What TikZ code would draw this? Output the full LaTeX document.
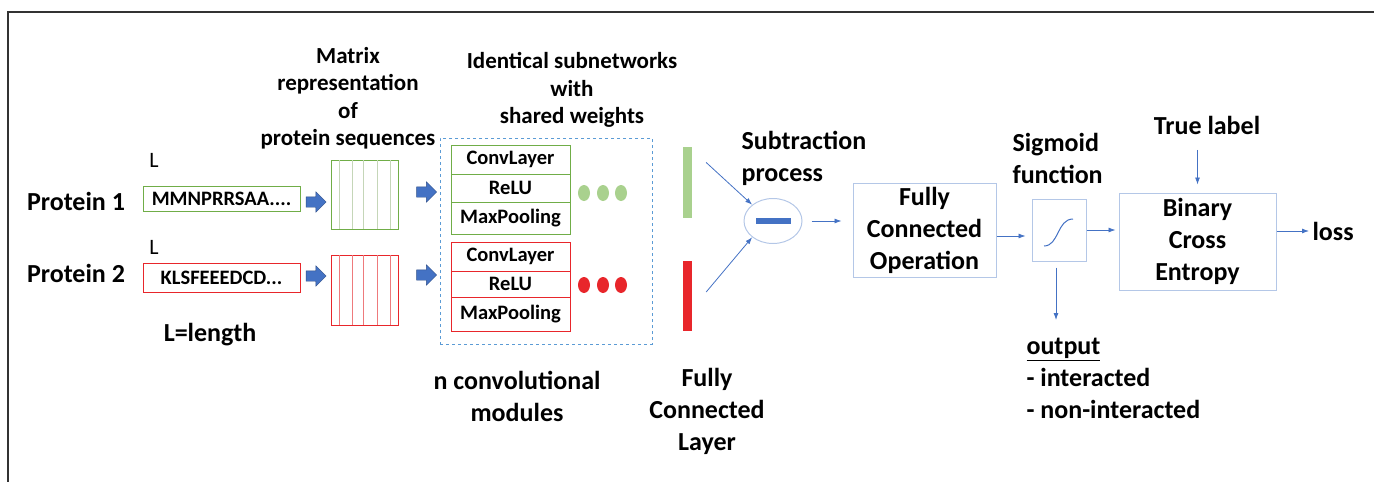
\documentclass[tikz,border=0pt]{standalone}
\usepackage{fontspec}
\setmainfont{Carlito}
\usetikzlibrary{positioning,shapes.geometric,shapes.arrows,arrows.meta}
\definecolor{lineblue}{HTML}{4472C4}
\definecolor{boxblue}{HTML}{B4C7E7}
\definecolor{dashblue}{HTML}{5B9BD5}
\definecolor{pgreen}{HTML}{70AD47}
\definecolor{lgreen}{HTML}{A9D18E}
\definecolor{mgreen}{HTML}{C5D6B8}
\definecolor{pred}{HTML}{E8262B}
\definecolor{lred}{HTML}{EE7A7C}

\tikzset{
  smalllbl/.style={font=\fontsize{23}{27.5}\selectfont\bfseries, align=center},
  biglbl/.style={font=\fontsize{26}{32}\selectfont\bfseries, align=center},
  boxtxt/.style={font=\fontsize{20.5}{23}\selectfont\bfseries, inner sep=0pt},
  seqbox/.style={boxtxt, draw, line width=1pt, minimum width=157pt},
  matbox/.style={draw, line width=1pt, minimum width=67pt, inner sep=0pt},
  layer/.style={boxtxt, draw, line width=1pt, minimum width=119pt},
  dot/.style={ellipse, inner sep=0pt, minimum width=12pt, minimum height=16pt},
  fcbar/.style={inner sep=0pt, minimum width=9pt},
  opbox/.style={biglbl, draw=boxblue, line width=1pt, inner sep=0pt},
  blockarrow/.style={single arrow, fill=lineblue, draw=lineblue!70!black, line width=0.4pt,
    inner sep=5pt, single arrow head extend=5pt, minimum height=20pt},
  flow/.style={draw=lineblue, line width=0.8pt, -{Latex[length=7pt,width=5pt]}}
}

\begin{document}
\begin{tikzpicture}[x=1pt,y=-1pt]
  \useasboundingbox (0,0) rectangle (1374,482);
  \draw[line width=1.2pt, black!80] (8,482) -- (8,12) -- (1374,12);

  % inputs
  \node[biglbl] (p1) at (76,201) {Protein 1};
  \node[biglbl] (p2) at (76,273) {Protein 2};
  \node[font=\fontsize{22}{26}\selectfont] (l1) at (154,160) {L};
  \node[font=\fontsize{22}{26}\selectfont] (l2) at (154,247) {L};
  \node[seqbox, draw=pgreen, minimum height=25pt] (seq1) at (221.5,198.5) {MMNPRRSAA....};
  \node[seqbox, draw=pred, minimum height=29pt] (seq2) at (221.5,277.5) {KLSFEEEDCD...};
  \node[biglbl] (len) at (210,335) {L=length};
  \node[blockarrow] (ba1) at (313.5,202) {};
  \node[blockarrow] (ba2) at (313.5,276) {};

  % matrices
  \node[smalllbl] (mattxt) at (348,98) {Matrix\\representation\\of\\protein sequences};
  \node[matbox, draw=pgreen, minimum height=69pt] (mat1) at (364.5,194.5) {};
  \node[matbox, draw=pred, minimum height=70pt] (mat2) at (364.5,290) {};
  \foreach \x in {339,352,363,377,390} {
    \draw[mgreen, line width=0.8pt] (\x,160) -- (\x,229);
    \draw[lred, line width=0.8pt] (\x,255) -- (\x,325);
  }
  \node[blockarrow] (ba3) at (424,192) {};
  \node[blockarrow] (ba4) at (424,275) {};

  % subnetworks
  \node[smalllbl] (idtxt) at (572,90) {Identical subnetworks\\with\\shared weights};
  \node[draw=dashblue, dashed, line width=0.8pt, minimum width=212pt, minimum height=206pt] (sub) at (546,241) {};
  \node[layer, draw=pgreen, minimum height=29pt] (conv1) at (510.5,159.5) {ConvLayer};
  \node[layer, draw=pgreen, minimum height=28pt] (relu1) at (510.5,188) {ReLU};
  \node[layer, draw=pgreen, minimum height=32pt] (pool1) at (510.5,218) {MaxPooling};
  \node[layer, draw=pred, minimum height=29pt] (conv2) at (510.5,256.5) {ConvLayer};
  \node[layer, draw=pred, minimum height=26pt] (relu2) at (510.5,284) {ReLU};
  \node[layer, draw=pred, minimum height=34pt] (pool2) at (510.5,314) {MaxPooling};
  \foreach \x in {584,603,621} {
    \node[dot, fill=lgreen] at (\x,193) {};
    \node[dot, fill=pred] at (\x,285) {};
  }
  \node[biglbl] (ntxt) at (517,396) {n convolutional\\modules};

  % fully connected layer and subtraction
  \node[fcbar, fill=lgreen, minimum height=71pt] (bar1) at (687.5,182.5) {};
  \node[fcbar, fill=pred, minimum height=70pt] (bar2) at (687.5,296) {};
  \node[biglbl] (fctxt) at (707,411) {Fully\\Connected\\Layer};
  \node[biglbl, align=left, anchor=west] (subtxt) at (738,158) {Subtraction\\process};
  \node[ellipse, draw=boxblue, line width=1pt, minimum width=58pt, minimum height=45pt] (minus) at (773,221) {};
  \node[fill=lineblue, inner sep=0pt, minimum width=35pt, minimum height=6pt] (bar) at (minus) {};
  \draw[flow] ([xshift=14pt,yshift=20pt]bar1.east) -- (minus.north west);
  \draw[flow] ([xshift=14pt,yshift=4pt]bar2.east) -- (minus.south west);

  % operation, sigmoid and loss
  \node[opbox, minimum width=143pt, minimum height=94pt] (fc) at (924.5,230) {Fully\\Connected\\Operation};
  \draw[flow] ([xshift=9pt]minus.east) -- ([xshift=-11pt]fc.west |- minus.east);
  \node[biglbl, align=left, anchor=west] (sigtxt) at (1009,158) {Sigmoid\\function};
  \node[draw=boxblue, line width=1pt, minimum width=54pt, minimum height=62pt] (sig) at (1059,230) {};
  \draw[lineblue, line width=1pt] (1044,246) .. controls (1059,246) and (1057,219) .. (1073,219);
  \draw[flow] ([yshift=-6pt]fc.east) -- ([xshift=-6pt,yshift=-6pt]sig.west);
  \node[opbox, minimum width=157pt, minimum height=97pt] (bce) at (1197.5,241.5) {Binary\\Cross\\Entropy};
  \draw[flow] (sig.east) -- ([xshift=-3pt]bce.west |- sig.east);
  \node[biglbl] (truelbl) at (1207,125) {True label};
  \draw[flow] ([yshift=-12pt]truelbl.south -| bce.north) -- ([yshift=8pt]bce.north);
  \node[biglbl, anchor=west] (loss) at (1309,231) {loss};
  \draw[flow] (bce.east |- loss.west) -- (loss.west);
  \coordinate (outtip) at (1056,320);
  \draw[flow] ([xshift=-3pt,yshift=-6pt]sig.south) -- (outtip);
  \node[biglbl, align=left, anchor=north west] (outtxt) at (1023,335) {\underline{output}\\- interacted\\- non-interacted};
\end{tikzpicture}
\end{document}
